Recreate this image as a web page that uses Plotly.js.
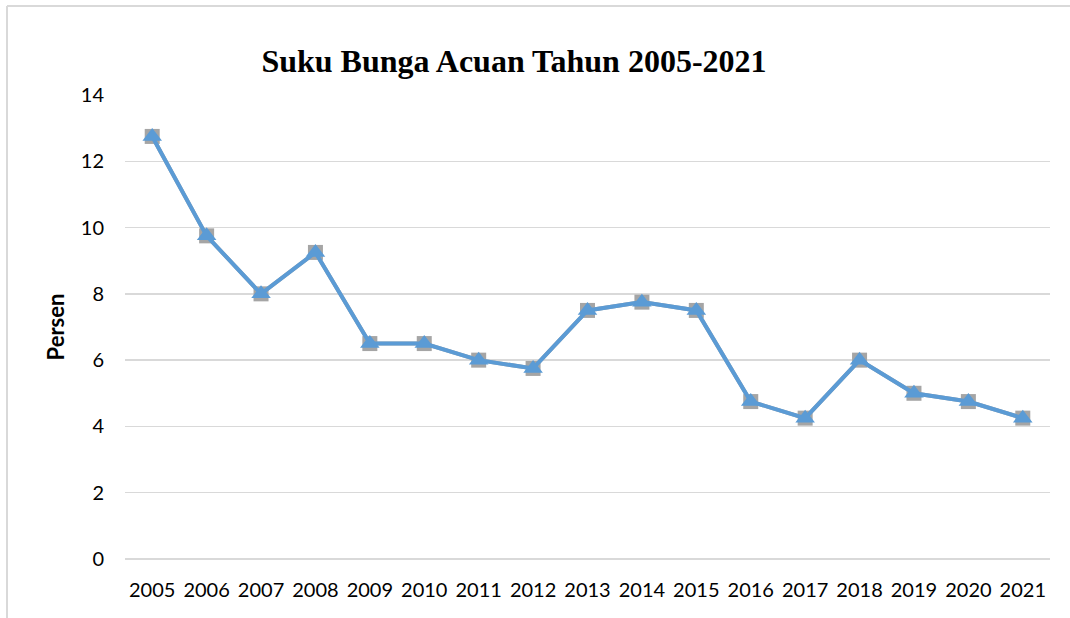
<!DOCTYPE html>
<html>
<head>
<meta charset="utf-8">
<script src="https://cdn.plot.ly/plotly-3.0.1.min.js"></script>
<style>html,body{margin:0;padding:0;background:#fff;}#chart{width:1070px;height:618px;}</style>
</head>
<body>
<div id="chart"></div>
<script>
const years = ["2005","2006","2007","2008","2009","2010","2011","2012","2013","2014","2015","2016","2017","2018","2019","2020","2021"];
const rates = [12.75, 9.75, 8.0, 9.25, 6.5, 6.5, 6.0, 5.75, 7.5, 7.75, 7.5, 4.75, 4.25, 6.0, 5.0, 4.75, 4.25];
const yTicks = [0, 2, 4, 6, 8, 10, 12, 14];
const titleText = "Suku Bunga Acuan Tahun 2005-2021";
const yTitle = "Persen";

const W = 1070, H = 618;
const m = {l: 125, r: 20, t: 95, b: 59};
const pw = W - m.l - m.r, ph = H - m.t - m.b;
const px = x => (x - m.l) / pw;
const py = y => (H - m.b - y) / ph;

const traces = [
  {x: years, y: rates, type: 'scatter', mode: 'lines+markers',
   line: {color: '#a5a5a5', width: 4},
   marker: {symbol: 'square', size: 15, color: '#a5a5a5'},
   hoverinfo: 'skip', showlegend: false, cliponaxis: false},
  {x: years, y: rates, type: 'scatter', mode: 'lines+markers',
   line: {color: '#5b9bd5', width: 4},
   marker: {symbol: 'triangle-up', size: 17, color: '#5b9bd5'},
   showlegend: false, cliponaxis: false}
];

const layout = {
  width: W, height: H,
  margin: m,
  paper_bgcolor: '#fff', plot_bgcolor: '#fff',
  title: {text: '<b>' + titleText + '</b>', x: 514 / W, xref: 'container', xanchor: 'center',
          y: 1 - 61 / H, yref: 'container', yanchor: 'middle',
          font: {family: 'Liberation Serif, Times New Roman, serif', size: 32, color: '#000'}},
  xaxis: {type: 'category', range: [-0.5, 16.5], showgrid: false, zeroline: false, showline: false,
          ticks: '', ticklabelstandoff: 17,
          tickfont: {family: 'Lato, Carlito, Calibri, sans-serif', size: 20, color: '#000'}},
  yaxis: {range: [0, 14], tickvals: yTicks, showgrid: true, gridcolor: '#d9d9d9', gridwidth: 1.5,
          zeroline: true, zerolinecolor: '#d9d9d9', zerolinewidth: 1.5,
          showline: false, ticks: '', ticklabelstandoff: 20,
          tickfont: {family: 'Lato, Carlito, Calibri, sans-serif', size: 20, color: '#000'},
          title: {text: '<b>' + yTitle + '</b>', standoff: 10,
                  font: {family: 'Lato, Carlito, Calibri, sans-serif', size: 22, color: '#000'}}},
  shapes: [
    {type: 'line', xref: 'paper', yref: 'paper', x0: px(7), x1: px(1070), y0: py(6), y1: py(6),
     line: {color: '#d9d9d9', width: 2}},
    {type: 'line', xref: 'paper', yref: 'paper', x0: px(7), x1: px(7), y0: py(6), y1: py(618),
     line: {color: '#d9d9d9', width: 2}}
  ]
};

Plotly.newPlot('chart', traces, layout, {displayModeBar: false, staticPlot: true});
</script>
</body>
</html>
